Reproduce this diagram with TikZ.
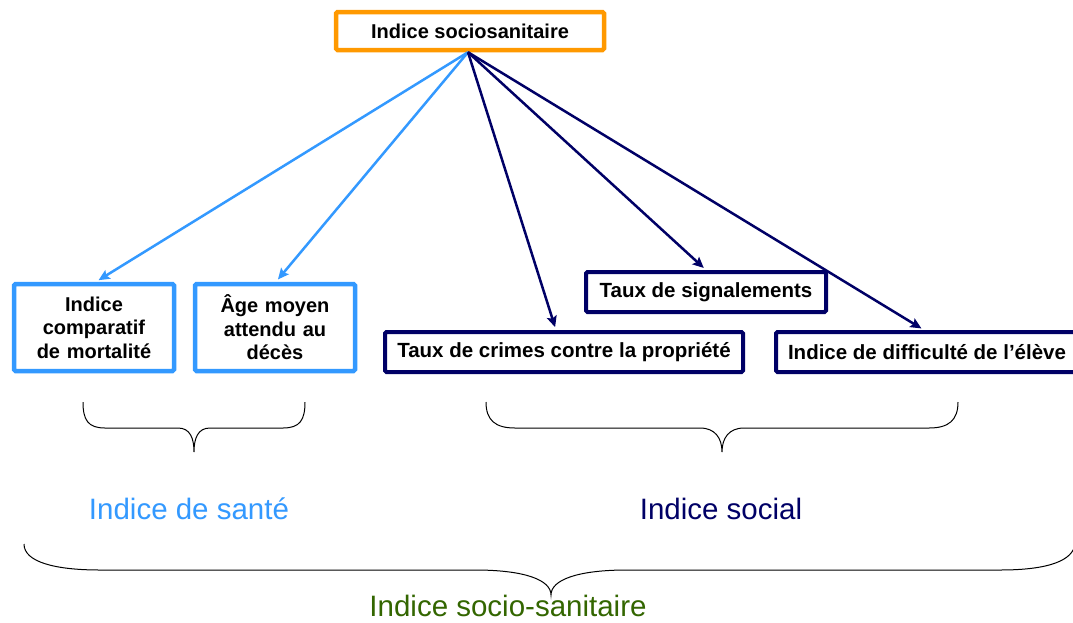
\documentclass[tikz,border=0pt]{standalone}
\usepackage{fontspec}
\setmainfont{Liberation Sans}
\usetikzlibrary{arrows.meta}
\definecolor{orangebox}{RGB}{255,153,0}
\definecolor{lightblue}{RGB}{51,153,255}
\definecolor{navy}{RGB}{0,0,102}
\definecolor{olivegreen}{RGB}{51,102,0}
\tikzset{
  box/.style={draw, line width=4.5pt, rounded corners=1.5pt, fill=white, inner sep=0pt,
    align=center, font=\fontsize{20}{23.5}\selectfont\bfseries, text=black},
  healthbox/.style={box, draw=lightblue, minimum width=160pt, minimum height=87pt, text width=150pt},
  socialbox/.style={box, draw=navy, line width=4pt, minimum height=40pt, font=\fontsize{20.5}{24}\selectfont\bfseries},
  topbox/.style={box, draw=orangebox, minimum width=268pt, minimum height=38pt},
  conn/.style={line width=2.5pt, -{Stealth[length=11pt,width=10pt,inset=2pt]}, shorten >=3pt},
  healthconn/.style={conn, draw=lightblue, color=lightblue},
  socialconn/.style={conn, draw=navy, color=navy},
  bracestyle/.style={draw=black, line width=1pt},
  grouplabel/.style={font=\fontsize{29.5}{33}\selectfont, anchor=base}
}
\begin{document}
\begin{tikzpicture}[x=1pt,y=-1pt]
\clip (0,0) rectangle (1073,622);
\fill[white] (0,0) rectangle (1073,622);

% nodes
\node[topbox] (top) at (470,31) {Indice sociosanitaire};
\node[healthbox] (mort) at (94,327.5) {Indice\\comparatif\\de mortalité};
\node[healthbox] (age) at (275,327.5) {Âge moyen\\attendu au\\décès};
\node[socialbox, minimum width=358pt] (crim) at (564,352) {Taux de crimes contre la propriété};
\node[socialbox, minimum width=240pt] (sign) at (706,292) {Taux de signalements};
\node[socialbox, minimum width=302pt] (diff) at (927,352) {Indice de difficulté de l’élève};

% connectors
\coordinate (src) at ([xshift=-2pt]top.south);
\draw[healthconn] (src) -- ([xshift=2pt]mort.north);
\draw[healthconn] (src) -- ([xshift=1pt]age.north);
\draw[socialconn] (src) -- ([xshift=-8pt]crim.north);
\draw[socialconn] (src) -- (sign.north);
\draw[socialconn] (src) -- ([xshift=-3pt]diff.north);

% braces
\draw[bracestyle] (83,402) .. controls (83,420) and (88,428) .. (105,428)
  -- (178,428) .. controls (190,428) and (194,438) .. (194,452)
  .. controls (194,438) and (198,428) .. (210,428)
  -- (283,428) .. controls (300,428) and (305,420) .. (305,402);
\draw[bracestyle] (486,402) .. controls (486,420) and (495,428) .. (515,428)
  -- (700,428) .. controls (715,428) and (722,438) .. (722,452)
  .. controls (722,438) and (729,428) .. (744,428)
  -- (929,428) .. controls (949,428) and (958,420) .. (958,402);
\draw[bracestyle] (24,544) .. controls (24,562) and (55,570) .. (100,570)
  -- (475,570) .. controls (525,570) and (551,580) .. (551,595)
  .. controls (551,580) and (577,570) .. (627,570)
  -- (1000,570) .. controls (1050,570) and (1073,560) .. (1075,544);

% group labels
\node[grouplabel, text=lightblue] (lsante) at (189,519) {Indice de santé};
\node[grouplabel, text=navy] (lsocial) at (721,519) {Indice social};
\node[grouplabel, text=olivegreen] (lsocsan) at (508,616) {Indice socio-sanitaire};
\end{tikzpicture}
\end{document}
